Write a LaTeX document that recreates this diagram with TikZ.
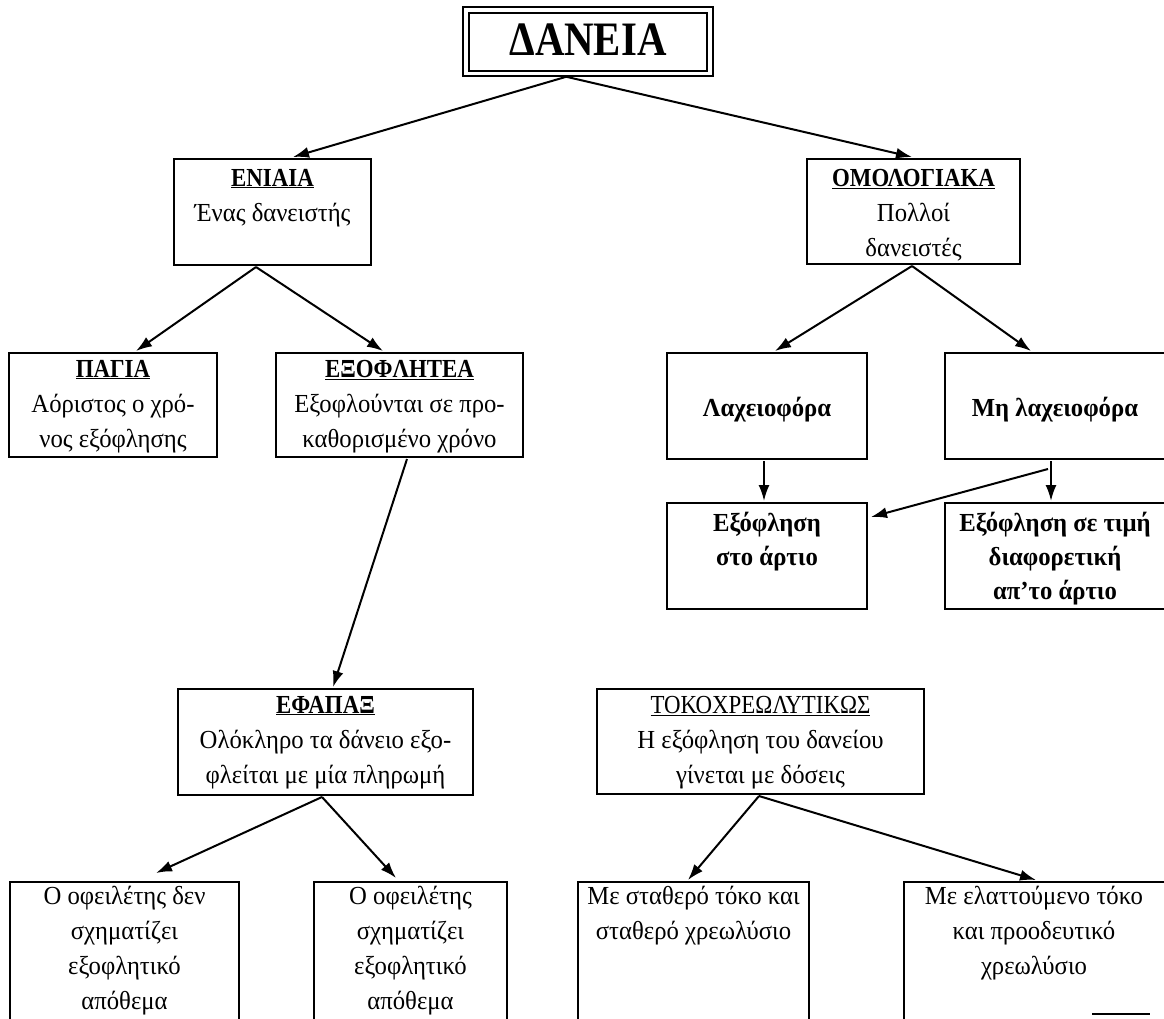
\documentclass[tikz,border=0pt]{standalone}
\usepackage{fontspec}
\setmainfont{Liberation Serif}[FakeStretch=0.95]
\newfontfamily\hdfont{Liberation Serif}[FakeStretch=0.88]
\newfontfamily\ttlfont{Liberation Serif}[FakeStretch=0.85]
\usetikzlibrary{arrows.meta,fit}
\begin{document}
\begin{tikzpicture}[x=1pt,y=-1pt,
  bx/.style={draw, line width=2pt, inner sep=0pt},
  txt/.style={align=center, inner sep=0pt, anchor=north, font=\fontsize{26}{#1}\selectfont},
  txt/.default=35,
  arr/.style={-{Latex[length=16pt,width=11pt]}, line width=2pt}
]
\newcommand\fl{\rule{0pt}{21pt}}
\newcommand\hd[1]{\underline{{\hdfont\bfseries #1}}}
\useasboundingbox (0,0) rectangle (1164,1018);
\clip (0,0) rectangle (1164,1018);
\fill[white] (0,0) rectangle (1164,1018);

% title
\node[draw, line width=1.5pt, inner sep=0pt, fit={(463,7) (713,76)}] (dan) {};
\node[draw, line width=2.5pt, inner sep=0pt, fit={(469,13) (707,71)}] (daninner) {};
\node[font=\fontsize{48}{48}\selectfont\ttlfont\bfseries, inner sep=0pt] (dantext) at (588,40) {ΔΑΝΕΙΑ};

% level 1
\node[bx, fit={(174,159) (371,265)}] (en) {};
\node[txt=35] (ent) at (272.5,165) {\fl\hd{ΕΝΙΑΙΑ}\\Ένας δανειστής};
\node[bx, fit={(807,159) (1020,264)}] (om) {};
\node[txt=35] (omt) at (913.5,165) {\fl\hd{ΟΜΟΛΟΓΙΑΚΑ}\\Πολλοί\\δανειστές};

% level 2
\node[bx, fit={(9,353) (217,457)}] (pa) {};
\node[txt=35] (pat) at (113,356) {\fl\hd{ΠΑΓΙΑ}\\Αόριστος ο χρό-\\νος εξόφλησης};
\node[bx, fit={(276,353) (523,457)}] (ex) {};
\node[txt=35] (ext) at (399.5,356) {\fl\hd{ΕΞΟΦΛΗΤΕΑ}\\Εξοφλούνται σε προ-\\καθορισμένο χρόνο};
\node[bx, fit={(667,353) (867,459)}] (la) {};
\node[txt=35] (lat) at (767,395) {\fl\textbf{Λαχειοφόρα}};
\node[bx, fit={(945,353) (1175,459)}] (ml) {};
\node[txt=35] (mlt) at (1055,395) {\fl\textbf{Μη λαχειοφόρα}};

% level 3 right
\node[bx, fit={(667,503) (867,609)}] (ea) {};
\node[txt=34] (eat) at (767,510) {\fl\textbf{Εξόφληση}\\\textbf{στο άρτιο}};
\node[bx, fit={(945,503) (1175,609)}] (ed) {};
\node[txt=34] (edt) at (1055,510) {\fl\textbf{Εξόφληση σε τιμή}\\\textbf{διαφορετική}\\\textbf{απ'το άρτιο}};

% level 3 left
\node[bx, fit={(178,689) (473,795)}] (ef) {};
\node[txt=35] (eft) at (325.5,692) {\fl\hd{ΕΦΑΠΑΞ}\\Ολόκληρο τα δάνειο εξο-\\φλείται με μία πληρωμή};
\node[bx, fit={(597,689) (924,794)}] (to) {};
\node[txt=35] (tot) at (760.5,692) {\fl\underline{{\hdfont ΤΟΚΟΧΡΕΩΛΥΤΙΚΩΣ}}\\Η εξόφληση του δανείου\\γίνεται με δόσεις};

% bottom row
\node[bx, fit={(10,882) (239,1040)}] (b1) {};
\node[txt=35] (b1t) at (124.5,883) {\fl Ο οφειλέτης δεν\\σχηματίζει\\εξοφλητικό\\απόθεμα};
\node[bx, fit={(314,882) (507,1040)}] (b2) {};
\node[txt=35] (b2t) at (410.5,883) {\fl Ο οφειλέτης\\σχηματίζει\\εξοφλητικό\\απόθεμα};
\node[bx, fit={(578,882) (809,1040)}] (b3) {};
\node[txt=35] (b3t) at (693.5,883) {\fl Με σταθερό τόκο και\\σταθερό χρεωλύσιο};
\node[bx, fit={(904,882) (1175,1040)}] (b4) {};
\node[txt=35] (b4t) at (1034,883) {\fl Με ελαττούμενο τόκο\\και προοδευτικό\\χρεωλύσιο};

% attachment points
\path (dan.south west) ++(104,0) coordinate (dan-o);
\path (en.north west) ++(120,-1) coordinate (en-i);
\path (om.north west) ++(106,-1) coordinate (om-i);
\path (en.south west) ++(83,1) coordinate (en-o);
\path (pa.north west) ++(128,-1) coordinate (pa-i);
\path (ex.north west) ++(108,-1) coordinate (ex-i);
\path (ex.south west) ++(132,1) coordinate (ex-o);
\path (ef.north west) ++(156,-1) coordinate (ef-i);
\path (om.south west) ++(106,1) coordinate (om-o);
\path (la.north west) ++(109,-1) coordinate (la-i);
\path (ml.north west) ++(87,-1) coordinate (ml-i);
\path (la.south west) ++(98,1) coordinate (la-o);
\path (ea.north west) ++(98,-1) coordinate (ea-i);
\path (ml.south west) ++(107,1) coordinate (ml-o);
\path (ed.north west) ++(107,-1) coordinate (ed-i);
\path (ml.south west) ++(104,9) coordinate (ml-s);
\path (ea.north east) ++(3,15) coordinate (ea-e);
\path (ef.south west) ++(145,1) coordinate (ef-o);
\path (b1.north west) ++(147,-8) coordinate (b1-i);
\path (b2.north west) ++(83,-3) coordinate (b2-i);
\path (to.south west) ++(163,1) coordinate (to-o);
\path (b3.north west) ++(111,-1) coordinate (b3-i);
\path (b4.north west) ++(133,-1) coordinate (b4-i);

% connectors
\draw[arr] (dan-o) -- (en-i);
\draw[arr] (dan-o) -- (om-i);
\draw[arr] (en-o) -- (pa-i);
\draw[arr] (en-o) -- (ex-i);
\draw[arr] (ex-o) -- (ef-i);
\draw[arr] (om-o) -- (la-i);
\draw[arr] (om-o) -- (ml-i);
\draw[arr] (la-o) -- (ea-i);
\draw[arr] (ml-o) -- (ed-i);
\draw[arr] (ml-s) -- (ea-e);
\draw[arr] (ef-o) -- (b1-i);
\draw[arr] (ef-o) -- (b2-i);
\draw[arr] (to-o) -- (b3-i);
\draw[arr] (to-o) -- (b4-i);

% scan mark bottom right
\draw[line width=1.5pt] (1092,1014) coordinate (m1) -- (1150,1014) coordinate (m2);
\end{tikzpicture}
\end{document}
